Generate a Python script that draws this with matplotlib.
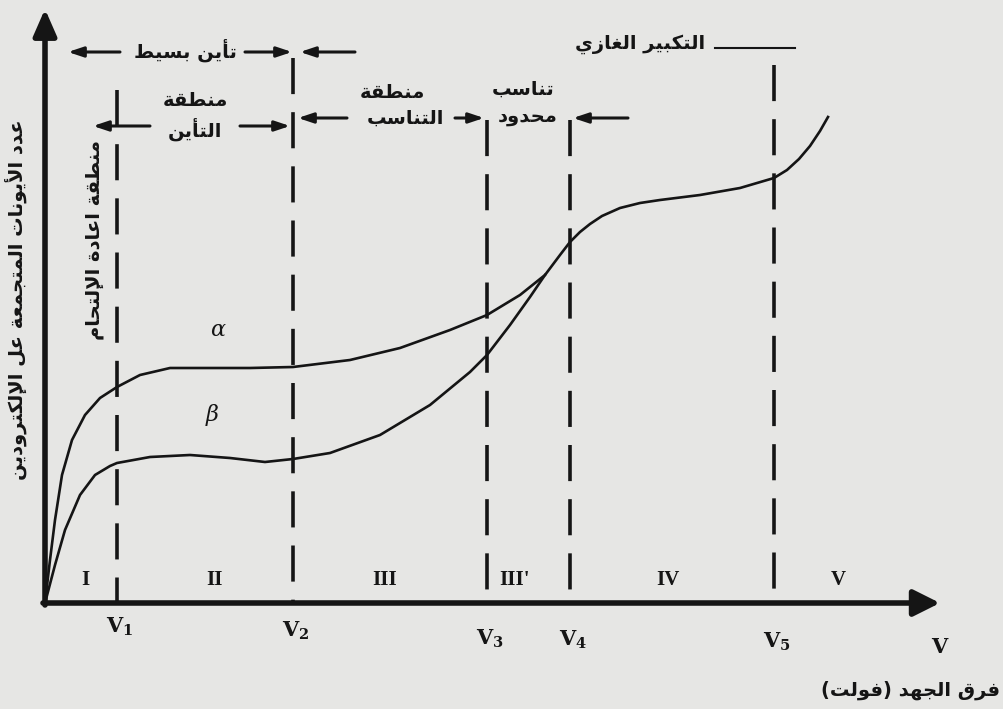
import matplotlib
matplotlib.use("Agg")
import matplotlib.pyplot as plt

plt.rcParams['mathtext.fontset'] = 'dejavuserif'

# ---------- Arabic shaping (matplotlib has no RTL / joining support) ----------
# letter: (isolated, final, initial, medial); None = letter does not join to the left
FORMS = {
    'ا': (0xFE8D, 0xFE8E, None, None), 'أ': (0xFE83, 0xFE84, None, None),
    'إ': (0xFE87, 0xFE88, None, None), 'ب': (0xFE8F, 0xFE90, 0xFE91, 0xFE92),
    'ة': (0xFE93, 0xFE94, None, None), 'ت': (0xFE95, 0xFE96, 0xFE97, 0xFE98),
    'ج': (0xFE9D, 0xFE9E, 0xFE9F, 0xFEA0), 'ح': (0xFEA1, 0xFEA2, 0xFEA3, 0xFEA4),
    'د': (0xFEA9, 0xFEAA, None, None), 'ر': (0xFEAD, 0xFEAE, None, None),
    'ز': (0xFEAF, 0xFEB0, None, None), 'س': (0xFEB1, 0xFEB2, 0xFEB3, 0xFEB4),
    'ط': (0xFEC1, 0xFEC2, 0xFEC3, 0xFEC4), 'ع': (0xFEC9, 0xFECA, 0xFECB, 0xFECC),
    'غ': (0xFECD, 0xFECE, 0xFECF, 0xFED0), 'ف': (0xFED1, 0xFED2, 0xFED3, 0xFED4),
    'ق': (0xFED5, 0xFED6, 0xFED7, 0xFED8), 'ك': (0xFED9, 0xFEDA, 0xFEDB, 0xFEDC),
    'ل': (0xFEDD, 0xFEDE, 0xFEDF, 0xFEE0), 'م': (0xFEE1, 0xFEE2, 0xFEE3, 0xFEE4),
    'ن': (0xFEE5, 0xFEE6, 0xFEE7, 0xFEE8), 'ه': (0xFEE9, 0xFEEA, 0xFEEB, 0xFEEC),
    'و': (0xFEED, 0xFEEE, None, None), 'ى': (0xFEEF, 0xFEF0, None, None),
    'ي': (0xFEF1, 0xFEF2, 0xFEF3, 0xFEF4),
}
LAM_ALEF = {'ا': (0xFEFB, 0xFEFC), 'أ': (0xFEF7, 0xFEF8), 'إ': (0xFEF9, 0xFEFA)}


def ar(text):
    tokens, i = [], 0
    while i < len(text):
        if text[i] == 'ل' and i + 1 < len(text) and text[i + 1] in LAM_ALEF:
            tokens.append(('LA', text[i + 1]))
            i += 2
        else:
            tokens.append(text[i])
            i += 1

    def dual(t):
        return isinstance(t, str) and t in FORMS and FORMS[t][2] is not None

    def arabic(t):
        return isinstance(t, tuple) or t in FORMS

    out = []
    for k, t in enumerate(tokens):
        prev_joins = k > 0 and dual(tokens[k - 1])
        if isinstance(t, tuple):
            iso, fin = LAM_ALEF[t[1]]
            out.append(chr(fin if prev_joins else iso))
            continue
        if t not in FORMS:
            out.append(t)
            continue
        iso, fin, ini, med = FORMS[t]
        next_joins = dual(t) and k + 1 < len(tokens) and arabic(tokens[k + 1])
        if prev_joins and next_joins:
            out.append(chr(med))
        elif prev_joins:
            out.append(chr(fin))
        elif next_joins:
            out.append(chr(ini))
        else:
            out.append(chr(iso))
    vis = ''.join(reversed(out))
    return vis.translate(str.maketrans('()', ')('))


# ---------- data ----------
# boundary voltages V1..V5 (arbitrary units)
v_names = [r'$\mathbf{V_1}$', r'$\mathbf{V_2}$', r'$\mathbf{V_3}$',
           r'$\mathbf{V_4}$', r'$\mathbf{V_5}$']
v_bounds = [7.2, 24.8, 44.2, 52.5, 72.9]
v_tops = [51.3, 54.5, 48.3, 48.3, 53.8]

regions = ['I', 'II', 'III', "III'", 'IV', 'V']
region_x = [4.0, 17.0, 34.0, 47.0, 62.3, 79.3]

# alpha particle curve
alpha_v = [0, 0.5, 1.0, 1.7, 2.7, 4.0, 5.5, 7.2, 9.5, 12.5, 15.5, 20.5, 24.8,
           30.5, 35.5, 40.5, 44.2, 47.5, 50.0, 51.5, 52.5, 53.5, 54.5, 55.7,
           57.5, 59.5, 61.5, 65.5, 69.5, 72.9, 74.2, 75.4, 76.5, 77.5, 78.3]
alpha_n = [0, 4.3, 8.3, 12.8, 16.3, 18.8, 20.5, 21.6, 22.8, 23.5, 23.5, 23.5,
           23.6, 24.3, 25.5, 27.3, 28.8, 30.8, 32.8, 34.8, 36.1, 37.1, 37.9,
           38.7, 39.5, 40.0, 40.3, 40.8, 41.5, 42.5, 43.3, 44.4, 45.7, 47.2, 48.6]

# beta particle curve (joins the alpha curve at the end of region III')
beta_v = [0, 1.0, 2.0, 3.5, 5.0, 6.5, 7.2, 10.5, 14.5, 18.5, 22.0, 24.8, 28.5,
          33.5, 38.5, 42.5, 44.2, 46.5, 48.5, 50.0]
beta_n = [0, 3.8, 7.3, 10.8, 12.8, 13.7, 14.0, 14.6, 14.8, 14.5, 14.1, 14.4,
          15.0, 16.8, 19.8, 23.1, 24.8, 27.8, 30.6, 32.8]

INK = '#151515'
PAPER = '#e6e6e4'
AR_FONT = ['DejaVu Sans']

fig = plt.figure(figsize=(10.04, 7.09), dpi=100, facecolor=PAPER)
ax = fig.add_axes([0, 0, 1, 1])
ax.set_xlim(-4.5, 95.9)
ax.set_ylim(-10.6, 60.3)
ax.axis('off')

# axes with arrow heads
ax.annotate('', xy=(89.5, 0), xytext=(-0.2, 0),
            arrowprops=dict(arrowstyle='-|>,head_length=1.6,head_width=0.8',
                            lw=4, color=INK, shrinkA=0, shrinkB=0))
ax.annotate('', xy=(0, 59.4), xytext=(0, -0.2),
            arrowprops=dict(arrowstyle='-|>,head_length=1.6,head_width=0.7',
                            lw=4, color=INK, shrinkA=0, shrinkB=0))

# dashed boundaries, drawn downward so each starts with a full dash
for xb, top in zip(v_bounds, v_tops):
    ax.plot([xb, xb], [top, 0], color=INK, lw=2.6, dashes=(10, 5))

ax.plot(alpha_v, alpha_n, color=INK, lw=1.9, solid_joinstyle='round')
ax.plot(beta_v, beta_n, color=INK, lw=1.9, solid_joinstyle='round')

ax.text(17.3, 27.3, r'$\alpha$', fontsize=16, color=INK, ha='center', va='center')
ax.text(16.7, 18.8, r'$\beta$', fontsize=16, color=INK, ha='center', va='center')

for name, xr in zip(regions, region_x):
    ax.text(xr, 2.3, name, fontsize=15, fontweight='bold', family='Liberation Serif',
            color=INK, ha='center', va='center')

label_y = [-2.4, -2.8, -3.6, -3.7, -3.9]
for name, xb, ly in zip(v_names, v_bounds, label_y):
    ax.text(xb + 0.3, ly, name, fontsize=15, color=INK, ha='center', va='center')
ax.text(89.5, -4.4, r'$\mathbf{V}$', fontsize=15, color=INK,
        ha='center', va='center')


def arrow(x0, x1, y):
    ax.annotate('', xy=(x1, y), xytext=(x0, y),
                arrowprops=dict(arrowstyle='-|>,head_length=0.9,head_width=0.3',
                                lw=2.2, color=INK, shrinkA=0, shrinkB=0))


# top row
arrow(7.5, 2.3, 55.1)
arrow(20.0, 24.7, 55.1)
arrow(31.0, 25.5, 55.1)
# second row
arrow(10.5, 4.8, 47.7)
arrow(19.5, 24.5, 47.7)
arrow(30.2, 25.3, 48.5)
arrow(41.0, 43.9, 48.5)
arrow(58.3, 52.8, 48.5)

txt = dict(fontsize=14, fontweight='bold', color=INK, family=AR_FONT,
           ha='center', va='center')
ax.text(14.0, 55.3, ar('تأين بسيط'), **txt)
ax.text(15.0, 50.2, ar('منطقة'), **txt)
ax.text(15.0, 47.4, ar('التأين'), **txt)
ax.text(34.7, 51.0, ar('منطقة'), **txt)
ax.text(36.0, 48.5, ar('التناسب'), **txt)
ax.text(47.8, 51.4, ar('تناسب'), **txt)
ax.text(48.3, 48.6, ar('محدود'), **txt)
ax.text(59.5, 55.9, ar('التكبير الغازي'), **txt)
ax.plot([67.0, 75.0], [55.5, 55.5], color=INK, lw=1.5)

ax.text(5.0, 36.3, ar('منطقة اعادة الإلتحام'), rotation=90, **txt)
ax.text(-2.8, 30.3, ar('عدد الأيونات المتجمعة عل الإلكترودين'), rotation=90, **txt)
ax.text(95.5, -8.7, ar('فرق الجهد (فولت)'), fontsize=14, fontweight='bold',
        color=INK, family=AR_FONT, ha='right', va='center')

fig.savefig('out.png', dpi=100, facecolor=PAPER)
